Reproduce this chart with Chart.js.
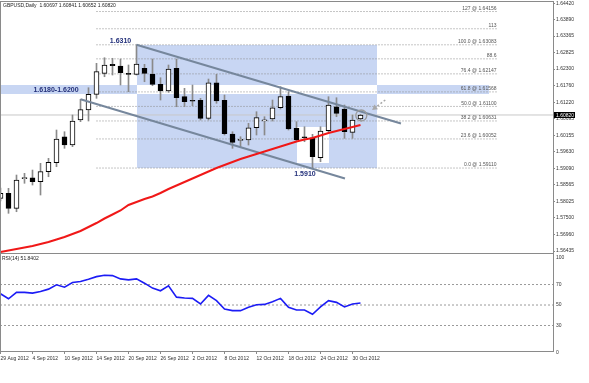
<!DOCTYPE html>
<html><head><meta charset="utf-8">
<script src="https://cdn.jsdelivr.net/npm/chart.js@4/dist/chart.umd.min.js"></script>
<style>
html,body{margin:0;padding:0;background:#fff;}
#wrap{position:relative;width:589px;height:383px;overflow:hidden;background:#fff;}
#c1{position:absolute;left:0;top:0;}
#c2{position:absolute;left:0;top:252px;}
</style></head><body>
<div id="wrap"><canvas id="c1" width="589" height="254"></canvas><canvas id="c2" width="589" height="131"></canvas></div>
<script>
// ---------- DATA ----------
const title = 'GBPUSD,Daily  1.60697 1.60841 1.60652 1.60820';
const rsiTitle = 'RSI(14) 51.8402';
const dates = ['29 Aug 2012','30 Aug 2012','31 Aug 2012','3 Sep 2012','4 Sep 2012','5 Sep 2012','6 Sep 2012','7 Sep 2012',
 '10 Sep 2012','11 Sep 2012','12 Sep 2012','13 Sep 2012','14 Sep 2012','17 Sep 2012','18 Sep 2012','19 Sep 2012',
 '20 Sep 2012','21 Sep 2012','24 Sep 2012','25 Sep 2012','26 Sep 2012','27 Sep 2012','28 Sep 2012','1 Oct 2012',
 '2 Oct 2012','3 Oct 2012','4 Oct 2012','5 Oct 2012','8 Oct 2012','9 Oct 2012','10 Oct 2012','11 Oct 2012',
 '12 Oct 2012','15 Oct 2012','16 Oct 2012','17 Oct 2012','18 Oct 2012','19 Oct 2012','22 Oct 2012','23 Oct 2012',
 '24 Oct 2012','25 Oct 2012','26 Oct 2012','29 Oct 2012','30 Oct 2012','31 Oct 2012'];
const dateTickIdx = [0,4,8,12,16,20,24,28,32,36,40,44];

const open  = [1.58134,1.58295,1.57812,1.58769,1.58798,1.58669,1.58992,1.59282,1.60120,1.59852,1.60658,1.60981,1.61487,1.62164,1.62454,1.62399,
 1.62164,1.62132,1.62325,1.62132,1.61809,1.61593,1.62325,1.61410,1.61271,1.61294,1.60713,1.61861,1.61294,1.60207,1.60004,1.60014,
 1.60410,1.60629,1.60691,1.61055,1.61432,1.60391,1.60094,1.60088,1.59443,1.60313,1.61087,1.61013,1.60262,1.60697];
const high  = [1.58466,1.58456,1.58885,1.58940,1.59046,1.59262,1.59424,1.60336,1.60281,1.60820,1.61326,1.61700,1.62486,1.62667,1.62648,1.62625,
 1.62432,1.63083,1.62454,1.62625,1.62022,1.62432,1.62625,1.61680,1.61787,1.61358,1.61980,1.62132,1.61464,1.60281,1.60120,1.60552,
 1.60926,1.60765,1.61303,1.61732,1.61571,1.60604,1.60442,1.60197,1.60442,1.61410,1.61377,1.61142,1.60820,1.60841];
const low   = [1.58047,1.57650,1.57702,1.58618,1.58563,1.58240,1.58830,1.59153,1.59746,1.59798,1.60604,1.60626,1.61358,1.62054,1.62109,1.61787,
 1.61571,1.62109,1.61893,1.61764,1.61303,1.61551,1.61087,1.61087,1.61119,1.60658,1.60658,1.61197,1.60175,1.59746,1.59798,1.59852,
 1.60175,1.60175,1.60626,1.61013,1.60336,1.59981,1.59959,1.59110,1.59314,1.60281,1.60765,1.60068,1.60068,1.60652];
const close = [1.58295,1.57812,1.58724,1.58789,1.58669,1.58992,1.59295,1.60046,1.59852,1.60626,1.60991,1.61487,1.62216,1.62432,1.62409,1.62183,
 1.62132,1.62464,1.62164,1.61809,1.61593,1.62303,1.61377,1.61248,1.61262,1.60713,1.61861,1.61271,1.60217,1.59939,1.60023,1.60410,
 1.60733,1.60642,1.61055,1.61410,1.60368,1.60014,1.60081,1.59475,1.60304,1.61142,1.60874,1.60281,1.60658,1.60820];
const ma = [1.56403,1.56451,1.56499,1.56548,1.56596,1.56661,1.56725,1.56806,1.56886,1.56983,1.57080,1.57209,1.57338,1.57483,1.57612,1.57741,
 1.57918,1.58015,1.58111,1.58192,1.58305,1.58434,1.58547,1.58660,1.58772,1.58885,1.58998,1.59111,1.59208,1.59304,1.59401,1.59482,
 1.59562,1.59643,1.59723,1.59804,1.59885,1.59965,1.60030,1.60078,1.60159,1.60239,1.60304,1.60368,1.60433,1.60497];
const rsi = [61.0,56.1,62.3,62.3,61.6,63.2,65.5,69.7,67.4,71.9,72.9,75.2,77.7,79.0,78.7,75.5,
 74.5,75.5,71.3,66.5,63.9,68.7,57.7,56.8,56.5,51.0,59.4,54.2,46.1,44.5,44.5,47.7,
 50.3,50.6,53.2,56.5,47.7,45.2,45.2,41.0,48.1,54.2,52.6,48.1,51.0,51.9];

const priceTicks = [1.64420,1.63890,1.63365,1.62825,1.62300,1.61760,1.61220,1.60695,1.60155,1.59630,1.59090,1.58565,1.58025,1.57500,1.56960,1.56435];
const lastPrice = 1.60820;

// fibonacci retracement (drawn from bar 12 to bar 62)
const fibStartBar = 12, fibEndBar = 62;
const fibPrices = [1.59110,1.60048,1.60628,1.61097,1.61565,1.62146,1.62630,1.63083,1.63600,1.64156];
const fibLabels = ['0.0 @ 1.59110','23.6 @ 1.60052','38.2 @ 1.60631','50.0 @ 1.61100','61.8 @ 1.61568','76.4 @ 1.62147','88.6','100.0 @ 1.63083','113','127 @ 1.64156'];

// channel lines [bar, price]
const upperChannel = [[17,1.63083],[50.06,1.60546]];
const lowerChannel = [[10,1.61326],[43.06,1.58772]];

// shaded zones (xor-combined)
const zoneStart = [17, -1, 37];
const zoneEnd   = [47, 61, 41];
const zoneLow   = [1.59110, 1.61507, 1.59262];
const zoneHigh  = [1.63083, 1.61797, 1.60442];

// text annotations
const annoText  = ['1.6310','1.6180-1.6200','1.5910'];
const annoBar   = [15, 6.94, 38.06];
const annoPrice = [1.63189, 1.61626, 1.58917];

// arrow & circle
const arrowFrom = [48.1, 1.61303], arrowTo = [46.44, 1.60981];
const circleAt = [45.1, 1.60804];

// RSI levels & labels
const rsiLevels = [70,50,30];
const rsiAxisVals = [100,70,50,30];
const rsiBottomLabel = '0';

// ---------- CONFIG ----------
const FONT = "'Liberation Sans', Arial, sans-serif";
Chart.defaults.font.family = FONT;
Chart.defaults.font.size = 5;
Chart.defaults.color = '#333';
const XMIN = -0.0625, XMAX = 69.0625;
const PMIN = 1.56371, PMAX = 1.64463;
const RMIN = 5.1, RMAX = 99.8;
const FRAME = '#8a8a8a';

const framePlugin = {
  id: 'frame',
  afterDraw(chart) {
    const {ctx, chartArea: a} = chart;
    ctx.save();
    ctx.strokeStyle = FRAME; ctx.lineWidth = 1;
    ctx.strokeRect(a.left + 0.5, a.top - 0.5, a.right - a.left, a.bottom - a.top + 1);
    ctx.restore();
  }
};

const zonePlugin = {
  id: 'zones',
  beforeDatasetsDraw(chart) {
    const {ctx, chartArea: a, scales: {x, y}} = chart;
    const off = document.createElement('canvas');
    off.width = chart.width; off.height = chart.height;
    const o = off.getContext('2d');
    o.fillStyle = '#c8d6f3';
    o.globalCompositeOperation = 'xor';
    for (let i = 0; i < zoneStart.length; i++) {
      const x0 = Math.round(x.getPixelForValue(zoneStart[i]));
      const x1 = Math.round(x.getPixelForValue(zoneEnd[i]));
      const y0 = Math.round(y.getPixelForValue(zoneHigh[i]));
      const y1 = Math.round(y.getPixelForValue(zoneLow[i]));
      o.fillRect(x0, y0, x1 - x0, y1 - y0);
    }
    ctx.save();
    ctx.beginPath(); ctx.rect(a.left, a.top, a.right - a.left, a.bottom - a.top); ctx.clip();
    ctx.drawImage(off, 0, 0);
    ctx.restore();
  }
};

const priceTextPlugin = {
  id: 'priceText',
  afterDatasetsDraw(chart) {
    const {ctx, chartArea: a, scales: {x, y}} = chart;
    ctx.save();
    ctx.font = '5px ' + FONT; ctx.fillStyle = '#555'; ctx.textAlign = 'right'; ctx.textBaseline = 'bottom';
    const fx = x.getPixelForValue(fibEndBar);
    fibPrices.forEach((p, i) => ctx.fillText(fibLabels[i], fx, y.getPixelForValue(p) - 0.5));
    ctx.font = 'bold 7px ' + FONT; ctx.fillStyle = '#23307a'; ctx.textAlign = 'center'; ctx.textBaseline = 'middle';
    annoText.forEach((t, i) => ctx.fillText(t, x.getPixelForValue(annoBar[i]), y.getPixelForValue(annoPrice[i])));
    ctx.strokeStyle = '#9a9a9a'; ctx.lineWidth = 1.3;
    ctx.beginPath(); ctx.arc(x.getPixelForValue(circleAt[0]), y.getPixelForValue(circleAt[1]), 5.5, 0, Math.PI * 2); ctx.stroke();
    const ax0 = x.getPixelForValue(arrowFrom[0]), ay0 = y.getPixelForValue(arrowFrom[1]);
    const ax1 = x.getPixelForValue(arrowTo[0]), ay1 = y.getPixelForValue(arrowTo[1]);
    const ang = Math.atan2(ay1 - ay0, ax1 - ax0);
    ctx.strokeStyle = '#a8a8a8'; ctx.lineWidth = 1.5; ctx.setLineDash([2, 2]);
    ctx.beginPath(); ctx.moveTo(ax0, ay0); ctx.lineTo(ax1 - 3 * Math.cos(ang), ay1 - 3 * Math.sin(ang)); ctx.stroke();
    ctx.setLineDash([]);
    ctx.fillStyle = '#a8a8a8';
    ctx.beginPath();
    ctx.moveTo(ax1, ay1);
    ctx.lineTo(ax1 - 6 * Math.cos(ang - 0.5), ay1 - 6 * Math.sin(ang - 0.5));
    ctx.lineTo(ax1 - 6 * Math.cos(ang + 0.5), ay1 - 6 * Math.sin(ang + 0.5));
    ctx.closePath(); ctx.fill();
    ctx.font = '5px ' + FONT; ctx.fillStyle = '#222'; ctx.textAlign = 'left'; ctx.textBaseline = 'middle';
    ctx.fillText(title, a.left + 3, a.top + 4);
    const ly = Math.round(y.getPixelForValue(lastPrice));
    ctx.fillStyle = '#000';
    ctx.fillRect(a.right + 1, ly - 3, 21, 6);
    ctx.fillStyle = '#fff'; ctx.textAlign = 'left';
    ctx.fillText(lastPrice.toFixed(5), a.right + 3, ly + 0.3);
    ctx.restore();
  }
};

const rsiTextPlugin = {
  id: 'rsiText',
  afterDraw(chart) {
    const {ctx, chartArea: a, scales: {y}} = chart;
    ctx.save();
    ctx.font = '5px ' + FONT; ctx.fillStyle = '#222'; ctx.textAlign = 'left'; ctx.textBaseline = 'middle';
    ctx.fillText(rsiTitle, a.left + 2, a.top + 5);
    ctx.fillStyle = '#333';
    rsiAxisVals.forEach(v => {
      let py = y.getPixelForValue(v);
      if (py < a.top + 4) py = a.top + 4;
      ctx.fillText(String(v), a.right + 3, py);
    });
    ctx.fillText(rsiBottomLabel, a.right + 3, a.bottom + 2);
    ctx.restore();
  }
};

const hLine = (price, color, dash, width, order) => ({
  type: 'line', data: [{x: XMIN - 1, y: price}, {x: XMAX + 1, y: price}],
  borderColor: color, borderWidth: width, borderDash: dash, pointRadius: 0, order
});

const priceDatasets = [
  hLine(lastPrice, '#c8c8c8', [], 1, 9),
  ...fibPrices.map(p => ({
    type: 'line', data: [{x: fibStartBar, y: p}, {x: fibEndBar, y: p}],
    borderColor: '#8c8c8c', borderWidth: 1, borderDash: [1, 2], pointRadius: 0, order: 8
  })),
  {
    type: 'bar', order: 6, grouped: false, barThickness: 1,
    data: low.map((l, i) => ({x: i, y: [l, high[i]]})),
    backgroundColor: '#8a8a8a', borderWidth: 0
  },
  {
    type: 'bar', order: 5, grouped: false, barThickness: 5, minBarLength: 1,
    data: open.map((o, i) => ({x: i, y: [o, close[i]]})),
    backgroundColor: open.map((o, i) => close[i] >= o ? '#ffffff' : '#000000'),
    borderColor: '#000', borderWidth: 1, borderSkipped: false
  },
  {
    type: 'line', order: 2, data: upperChannel.map(p => ({x: p[0], y: p[1]})),
    borderColor: '#76879c', borderWidth: 2, pointRadius: 0
  },
  {
    type: 'line', order: 2, data: lowerChannel.map(p => ({x: p[0], y: p[1]})),
    borderColor: '#76879c', borderWidth: 2, pointRadius: 0
  },
  {
    type: 'line', order: 1, data: ma.map((v, i) => ({x: i, y: v})),
    borderColor: '#f01818', borderWidth: 2, pointRadius: 0, tension: 0
  }
];

new Chart(document.getElementById('c1'), {
  type: 'bar',
  data: {datasets: priceDatasets},
  options: {
    responsive: false, animation: false, events: [],
    layout: {padding: {top: 2, bottom: 1, left: 0, right: 0}},
    plugins: {legend: {display: false}, tooltip: {enabled: false}},
    scales: {
      x: {type: 'linear', min: XMIN, max: XMAX, offset: false, display: false, grid: {offset: false}},
      y: {
        type: 'linear', position: 'right', min: PMIN, max: PMAX,
        afterBuildTicks: s => { s.ticks = priceTicks.map(v => ({value: v})); },
        afterFit: s => { s.width = 36; s.paddingTop = 0; s.paddingBottom = 0; },
        ticks: {font: {size: 5}, color: '#333', padding: 1, callback: v => Number(v).toFixed(5)},
        grid: {drawOnChartArea: false, drawTicks: true, tickLength: 2, color: FRAME},
        border: {display: true, color: FRAME}
      }
    }
  },
  plugins: [zonePlugin, priceTextPlugin, framePlugin]
});

new Chart(document.getElementById('c2'), {
  type: 'line',
  data: {datasets: [
    ...rsiLevels.map(l => hLine(l, '#9a9a9a', [2, 2], 1, 5)),
    {type: 'line', order: 1, data: rsi.map((v, i) => ({x: i, y: v})), borderColor: '#1c1cf5', borderWidth: 1.6, pointRadius: 0, tension: 0}
  ]},
  options: {
    responsive: false, animation: false, events: [],
    layout: {padding: {top: 2, bottom: 0, left: 0, right: 0}},
    plugins: {legend: {display: false}, tooltip: {enabled: false}},
    scales: {
      x: {
        type: 'linear', min: XMIN, max: XMAX, offset: false,
        afterBuildTicks: s => { s.ticks = dateTickIdx.map(v => ({value: v})); },
        afterFit: s => { s.height = 32; s.paddingLeft = 0; s.paddingRight = 0; },
        ticks: {autoSkip: false, maxRotation: 0, align: 'start', padding: 2, font: {size: 5}, color: '#333',
                callback: v => dates[v] || ''},
        grid: {drawOnChartArea: false, drawTicks: true, tickLength: 3, color: FRAME, offset: false},
        border: {display: true, color: FRAME}
      },
      y: {
        type: 'linear', position: 'right', min: RMIN, max: RMAX,
        afterFit: s => { s.width = 36; s.paddingTop = 0; s.paddingBottom = 0; },
        ticks: {display: false},
        grid: {drawOnChartArea: false, drawTicks: false},
        border: {display: true, color: FRAME}
      }
    }
  },
  plugins: [rsiTextPlugin, framePlugin]
});
</script>
</body></html>
